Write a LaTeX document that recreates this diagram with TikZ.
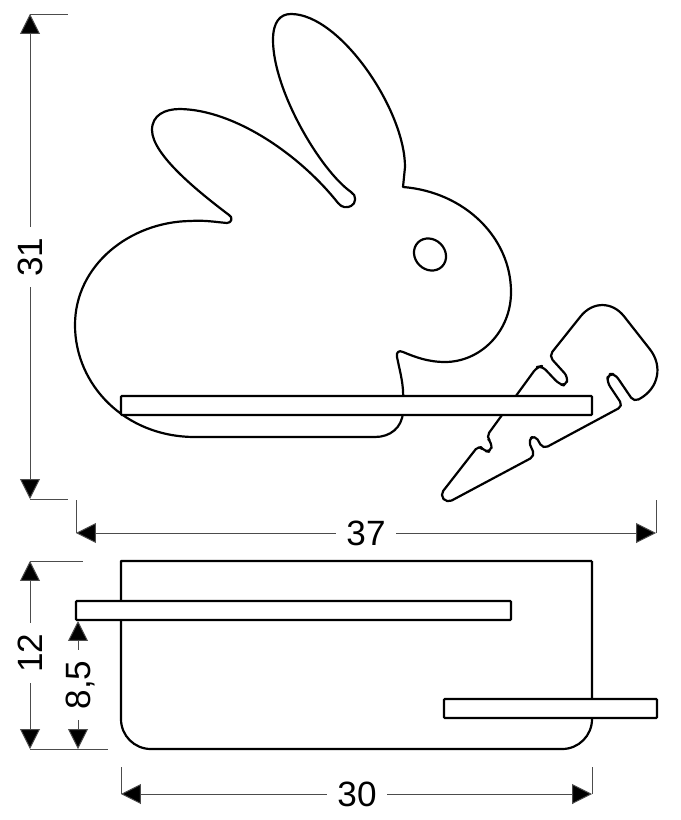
\documentclass[tikz,border=0pt]{standalone}
\usepackage{fontspec}
\setmainfont{Liberation Sans}
\usetikzlibrary{positioning, arrows.meta}

\tikzset{
	outline/.style={draw=black, line width=1.25pt, line join=round},
	shelf/.style={draw=black, line width=1.25pt, rectangle, fill=white, rounded corners=0.5pt},
	dimline/.style={draw=black!70, line width=0.55pt},
	dimarrow/.style={dimline, -{Triangle[length=11.3pt, width=11.3pt, fill=black]}},
	dimlabel/.style={font=\fontsize{20}{21}\selectfont, text height=14pt, text depth=0pt, inner xsep=6pt, inner ysep=2pt}
}

\begin{document}
\begin{tikzpicture}[x=0.02cm, y=-0.02cm]
		\useasboundingbox (0,0) rectangle (680,820);
		
		% rabbit
		\draw[outline] (403,187) .. controls (465,192) and (511,238) .. (511,292)
		.. controls (511,332) and (480,362) .. (445,362)
		.. controls (428,362) and (415,357) .. (403,352)
		.. controls (399,350) and (396,352) .. (397,357)
		.. controls (400,372) and (404,385) .. (403,400) -- (403,412)
		.. controls (402,428) and (390,437) .. (375,437) -- (195,437)
		.. controls (125,437) and (75,385) .. (75,325)
		.. controls (75,265) and (130,222) .. (190,221)
		.. controls (205,220) and (215,222) .. (227,223)
		.. controls (232,223) and (233,217) .. (229,215)
		.. controls (200,193) and (152,155) .. (152,130)
		.. controls (152,115) and (165,109) .. (180,109)
		.. controls (235,110) and (300,155) .. (338,203)
		.. controls (342,208) and (347,208) .. (351,206)
		.. controls (356,204) and (357,195) .. (351,192)
		.. controls (320,170) and (273,90) .. (273,40)
		.. controls (273,22) and (280,14) .. (291,14)
		.. controls (340,14) and (405,110) .. (405,167) -- cycle;
		\draw[outline, rotate around={-45:(430,254.5)}] (430,254.5) ellipse [x radius=17, y radius=15];
		
		% carrot
		\draw[outline, rounded corners=3pt] (447,503) -- (535,456) -- (528,440) -- (535,435) -- (543,449) -- (623,406) -- (607,382) -- (608,374) -- (615,374) -- (634,402) [rounded corners=22pt] -- (673.7,379.6) [rounded corners=20pt] -- (602.5,288.9) [rounded corners=3pt] -- (549,356) -- (568,377) -- (566,386) -- (559,384) -- (542,366) -- (537,367) -- (486,437) -- (492,443) -- (491,452) -- (484,451) -- (479,445) -- (440,495) -- cycle;
		
		% front view shelf
		\node (Front Shelf) at (356.5,405.5) [shelf, minimum height=0.38cm, minimum width=9.42cm]{};
		
		% top view
		\draw[outline] (592,561) -- (121,561) [rounded corners=17pt] -- (121,749) -- (592,749) [sharp corners] -- (592,561);
		\node (Upper Shelf) at (293.5,610.5) [shelf, minimum height=0.38cm, minimum width=8.7cm]{};
		\node (Lower Shelf) at (550.5,708.5) [shelf, minimum height=0.38cm, minimum width=4.26cm]{};
		
		% dimension labels
		\node (Label 31) at (30,257) [dimlabel, rotate=90]{31};
		\node (Label 37) at (366,533) [dimlabel]{37};
		\node (Label 12) at (30,653) [dimlabel, rotate=90]{12};
		\node (Label 85) at (78,685) [dimlabel, rotate=90]{8,5};
		\node (Label 30) at (357,794) [dimlabel]{30};
		
		% dimension end points
		\coordinate (Top 31) at (30,14);
		\coordinate (Bottom 31) at (30,499);
		\coordinate (Left 37) at (76,533);
		\coordinate (Right 37) at (656,533);
		\coordinate (Top 12) at (30,561);
		\coordinate (Bottom 12) at (30,749);
		\coordinate (Top 85) at (78,621);
		\coordinate (Bottom 85) at (78,749);
		\coordinate (Left 30) at (121,794);
		\coordinate (Right 30) at (592,794);
		
		\draw[dimarrow] (Label 31) -- (Top 31);
		\draw[dimarrow] (Label 31) -- (Bottom 31);
		\draw[dimarrow] (Label 37) -- (Left 37);
		\draw[dimarrow] (Label 37) -- (Right 37);
		\draw[dimarrow] (Label 12) -- (Top 12);
		\draw[dimarrow] (Label 12) -- (Bottom 12);
		\draw[dimarrow] (Label 85) -- (Top 85);
		\draw[dimarrow] (Label 85) -- (Bottom 85);
		\draw[dimarrow] (Label 30) -- (Left 30);
		\draw[dimarrow] (Label 30) -- (Right 30);
		
		% extension lines
		\coordinate (Ext Top 31) at (68,14);
		\coordinate (Ext Bottom 31) at (68,499);
		\coordinate (Ext Left 37) at (76,500);
		\coordinate (Ext Right 37) at (656,500);
		\coordinate (Ext Top 12) at (83,561);
		\coordinate (Ext Bottom 12) at (108,749);
		\coordinate (Ext Left 30) at (121,767);
		\coordinate (Ext Right 30) at (592,767);
		
		\draw[dimline] (Top 31) -- (Ext Top 31);
		\draw[dimline] (Bottom 31) -- (Ext Bottom 31);
		\draw[dimline] (Left 37) -- (Ext Left 37);
		\draw[dimline] (Right 37) -- (Ext Right 37);
		\draw[dimline] (Top 12) -- (Ext Top 12);
		\draw[dimline] (Bottom 12) -- (Ext Bottom 12);
		\draw[dimline] (Left 30) -- (Ext Left 30);
		\draw[dimline] (Right 30) -- (Ext Right 30);
\end{tikzpicture}
\end{document}
